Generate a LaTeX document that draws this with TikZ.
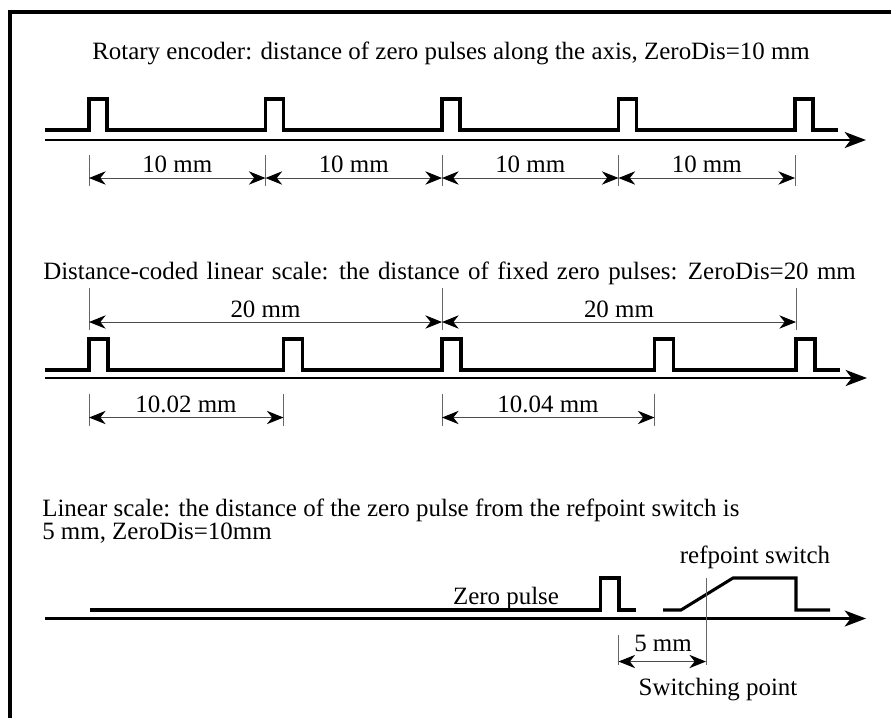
\documentclass[tikz,border=0pt]{standalone}
\usepackage{fontspec}
\setmainfont{Liberation Serif}
\usetikzlibrary{arrows.meta}
\begin{document}
\begin{tikzpicture}[x=0.75pt,y=-0.75pt,
  sig/.style={line width=2.3pt, line join=miter},
  axisline/.style={line width=2pt,-{Stealth[length=16pt,width=12pt,inset=4.5pt]}},
  dimline/.style={draw=black!70, line width=0.7pt,
     {Stealth[length=12.5pt,width=10pt,inset=4pt,color=black,fill=black]}-{Stealth[length=12.5pt,width=10pt,inset=4pt,color=black,fill=black]}},
  ext/.style={draw=black!60, line width=0.7pt},
  lbl/.style={font=\fontsize{18.7}{22}\selectfont, inner sep=0pt, anchor=base},
  ttl/.style={font=\fontsize{18.7}{22}\selectfont, inner sep=0pt, anchor=base west},
  frame/.style={line width=2.5pt}
]
\useasboundingbox (0,0) rectangle (891,718);
% frame
\coordinate (fb) at (10,718);
\coordinate (fc) at (10,12);
\coordinate (fr) at (891,12);
\draw[frame] (fb) -- (fc) -- (fr);

%================ Section 1
\node[ttl] (t1) at (92,59) {Rotary encoder: distance of zero pulses along the axis, ZeroDis=10 mm};
\draw[sig] (45,130) foreach \p in {89,265.5,442,618.5,795} { -- (\p,130) -- (\p,99) -- ({\p+18},99) -- ({\p+18},130)} -- (838,130);
\coordinate (a1s) at (45,140);
\coordinate (a1e) at (866,140);
\draw[axisline] (a1s) -- (a1e);
\foreach \p [count=\i] in {89,265.5,442,618.5,795} {
  \coordinate (e1t\i) at (\p,155);
  \coordinate (e1b\i) at (\p,186);
  \coordinate (d1\i) at (\p,178);
  \draw[ext] (e1t\i) -- (e1b\i);
}
\foreach \i/\j in {1/2,2/3,3/4,4/5} {
  \draw[dimline] (d1\i) -- (d1\j);
  \path (d1\i) -- (d1\j) node[pos=0.5, lbl, yshift=4.5pt] (l1\i) {10 mm};
}

%================ Section 2
\node[ttl] (t2) at (43,279) {\spaceskip=6.3pt plus 1pt\relax Distance-coded linear scale: the distance of fixed zero pulses: ZeroDis=20 mm};
\draw[sig] (45,370) foreach \p in {89,283.5,442,654.5,796} { -- (\p,370) -- (\p,339) -- ({\p+19},339) -- ({\p+19},370)} -- (840,370);
\coordinate (a2s) at (45,378);
\coordinate (a2e) at (867,378);
\draw[axisline] (a2s) -- (a2e);
\foreach \p [count=\i] in {89,442,796} {
  \coordinate (e2t\i) at (\p,288);
  \coordinate (e2b\i) at (\p,330);
  \coordinate (d2\i) at (\p,322);
  \draw[ext] (e2t\i) -- (e2b\i);
}
\foreach \i/\j in {1/2,2/3} {
  \draw[dimline] (d2\i) -- (d2\j);
  \path (d2\i) -- (d2\j) node[pos=0.5, lbl, yshift=3.75pt] (l2\i) {20 mm};
}
\foreach \p [count=\i] in {89,283.5,442,654.5} {
  \coordinate (e3t\i) at (\p,394);
  \coordinate (e3b\i) at (\p,426);
  \coordinate (d3\i) at (\p,417.5);
  \draw[ext] (e3t\i) -- (e3b\i);
}
\draw[dimline] (d31) -- (d32);
\draw[dimline] (d33) -- (d34);
\node[lbl] (l31) at (186,412) {10.02 mm};
\node[lbl] (l32) at (548,412) {10.04 mm};

%================ Section 3
\node[ttl] (t3a) at (42,516) {Linear scale: the distance of the zero pulse from the refpoint switch is};
\node[ttl] (t3b) at (42,539) {5 mm, ZeroDis=10mm};
\draw[sig] (90,610) -- (600.5,610) -- (600.5,578) -- (619,578) -- (619,610) -- (636,610);
\draw[sig] (663,610) -- (681,610) -- (733,578) -- (796,578) -- (796,610) -- (830,610);
\coordinate (a3s) at (45,618.5);
\coordinate (a3e) at (866,618.5);
\draw[axisline] (a3s) -- (a3e);
\coordinate (swt) at (706,578);
\coordinate (swb) at (706,665);
\draw[ext] (swt) -- (swb);
\coordinate (e4t) at (618.5,635);
\coordinate (e4b) at (618.5,665);
\draw[ext] (e4t) -- (e4b);
\coordinate (d41) at (618.5,661.5);
\coordinate (d42) at (706,661.5);
\draw[dimline] (d41) -- (d42);
\node[lbl] (l4) at (663,651.5) {5 mm};
\node[lbl] (zp) at (506,604) {Zero pulse};
\node[lbl] (rs) at (755,563) {refpoint switch};
\node[lbl] (sp) at (718,695) {Switching point};
\end{tikzpicture}
\end{document}
